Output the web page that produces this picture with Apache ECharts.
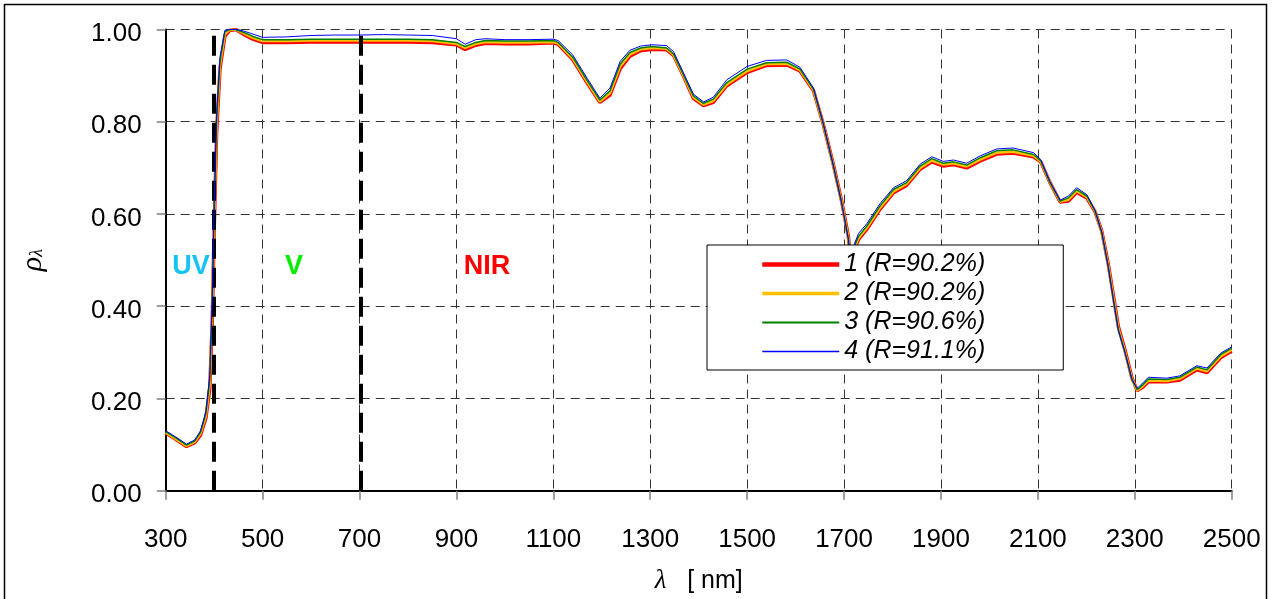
<!DOCTYPE html>
<html><head><meta charset="utf-8">
<script src="https://cdn.jsdelivr.net/npm/echarts@6/dist/echarts.min.js"></script>
<style>html,body{margin:0;padding:0;background:#fff}#c{width:1272px;height:599px}</style>
</head><body><div id="c"></div>
<script>
const wavelengths = [300,320,343,360,372,383,391,396,400,405,412,422,432,445,460,480,500,550,600,650,700,750,800,850,900,918,940,960,1000,1050,1100,1110,1140,1170,1196,1217,1238,1258,1280,1303,1334,1348,1368,1389,1410,1430,1458,1500,1540,1582,1609,1637,1657,1678,1695,1709,1715,1722,1730,1747,1774,1802,1829,1857,1881,1905,1926,1953,1981,2015,2049,2091,2106,2125,2146,2163,2180,2201,2218,2232,2245,2256,2266,2280,2294,2305,2317,2328,2366,2393,2428,2449,2477,2500];
const sample1 = [0.125,0.112,0.096,0.104,0.121,0.158,0.222,0.365,0.565,0.775,0.915,0.985,0.998,1.000,0.990,0.979,0.972,0.972,0.973,0.973,0.973,0.973,0.973,0.972,0.967,0.957,0.966,0.970,0.969,0.969,0.971,0.968,0.935,0.884,0.842,0.858,0.915,0.942,0.954,0.957,0.956,0.944,0.900,0.851,0.835,0.842,0.878,0.907,0.922,0.923,0.910,0.867,0.795,0.707,0.628,0.551,0.470,0.524,0.545,0.567,0.610,0.646,0.662,0.697,0.713,0.704,0.707,0.700,0.715,0.730,0.732,0.724,0.713,0.668,0.626,0.628,0.647,0.635,0.605,0.562,0.493,0.422,0.356,0.304,0.245,0.217,0.225,0.236,0.236,0.240,0.262,0.256,0.288,0.303];
const sample2 = [0.126,0.113,0.097,0.106,0.124,0.163,0.232,0.385,0.585,0.790,0.922,0.990,0.999,1.000,0.992,0.982,0.975,0.975,0.976,0.976,0.976,0.976,0.976,0.975,0.969,0.960,0.969,0.973,0.972,0.972,0.973,0.970,0.937,0.886,0.844,0.862,0.920,0.946,0.957,0.960,0.958,0.945,0.901,0.853,0.837,0.845,0.881,0.910,0.925,0.926,0.912,0.868,0.795,0.705,0.626,0.548,0.470,0.528,0.548,0.570,0.613,0.649,0.665,0.700,0.716,0.707,0.710,0.703,0.718,0.733,0.735,0.726,0.714,0.668,0.627,0.631,0.650,0.637,0.606,0.560,0.490,0.418,0.352,0.301,0.243,0.218,0.227,0.239,0.238,0.243,0.265,0.259,0.291,0.306];
const sample3 = [0.128,0.115,0.099,0.108,0.127,0.168,0.240,0.400,0.600,0.800,0.930,0.995,1.000,1.000,0.994,0.985,0.978,0.978,0.979,0.979,0.979,0.979,0.979,0.978,0.972,0.963,0.972,0.976,0.975,0.975,0.976,0.972,0.940,0.889,0.847,0.867,0.925,0.950,0.960,0.963,0.960,0.947,0.903,0.856,0.840,0.849,0.885,0.914,0.928,0.929,0.914,0.870,0.795,0.704,0.624,0.545,0.470,0.532,0.552,0.574,0.617,0.653,0.668,0.704,0.720,0.710,0.713,0.706,0.722,0.737,0.739,0.729,0.715,0.668,0.628,0.635,0.653,0.639,0.606,0.559,0.487,0.414,0.349,0.299,0.241,0.219,0.230,0.242,0.241,0.246,0.268,0.262,0.295,0.309];
const sample4 = [0.130,0.117,0.101,0.110,0.130,0.172,0.250,0.420,0.620,0.815,0.940,0.998,1.000,1.000,0.997,0.990,0.983,0.984,0.987,0.988,0.988,0.989,0.988,0.987,0.980,0.968,0.978,0.980,0.978,0.978,0.979,0.976,0.945,0.894,0.851,0.873,0.931,0.955,0.964,0.967,0.965,0.952,0.907,0.860,0.843,0.853,0.891,0.920,0.933,0.934,0.918,0.873,0.797,0.705,0.624,0.545,0.472,0.537,0.558,0.579,0.622,0.657,0.672,0.708,0.724,0.714,0.717,0.710,0.726,0.741,0.743,0.733,0.718,0.670,0.630,0.639,0.657,0.642,0.608,0.560,0.487,0.413,0.348,0.299,0.242,0.222,0.234,0.246,0.244,0.249,0.271,0.266,0.298,0.312];
const seriesNames = ['1 (R=90.2%)','2 (R=90.2%)','3 (R=90.6%)','4 (R=91.1%)'];
const seriesColors = ['#ff0000','#ffc000','#008000','#0000ff'];
const seriesWidths = [3.5,2.5,1.5,1];
const legendWidths = [4.5,3.5,2,1.5];
const bandLimits = [400,703];
const bandLabels = [{text:'UV',x:352,y:0.487,color:'#17c4f0'},{text:'V',x:565,y:0.487,color:'#00ee00'},{text:'NIR',x:963,y:0.487,color:'#ff0000'}];
const xTicks = {min:300,max:2500,step:200};
const yTicks = {min:0,max:1,step:0.2};

const allSamples = [sample1,sample2,sample3,sample4];
const FONT = '"Liberation Sans", Arial, sans-serif';
const series = allSamples.map((vals,i)=>({
  name: seriesNames[i], type:'line', showSymbol:false, symbol:'none', animation:false,
  data: wavelengths.map((w,k)=>[w, vals[k]]),
  lineStyle:{color:seriesColors[i], width:seriesWidths[i]},
  itemStyle:{color:seriesColors[i]},
  color: seriesColors[i],
  z: 2+i
}));
series[3].markLine = {
  silent:true, symbol:['none','none'], label:{show:false}, animation:false,
  lineStyle:{color:'#000', width:4, type:[20,9]},
  data: bandLimits.map(v=>({xAxis:v}))
};
series[2].markPoint = {
  silent:true, symbol:'circle', symbolSize:0, animation:false,
  data: bandLabels.map(b=>({coord:[b.x,b.y], label:{show:true, position:'inside', formatter:b.text, color:b.color, fontWeight:'bold', fontSize:27, fontFamily:FONT}}))
};

const chart = echarts.init(document.getElementById('c'), null, {renderer:'canvas'});
chart.setOption({
  animation:false,
  backgroundColor:'#fff',
  grid:{left:165.7, right:40.3, top:29.5, bottom:108.3, containLabel:false, outerBoundsMode:'none'},
  legend:{
    show:true, z:20,
    data: seriesNames.map((n,i)=>({name:n, lineStyle:{width:legendWidths[i], color:seriesColors[i]}, itemStyle:{opacity:0}})),
    orient:'vertical', left:707, top:245,
    padding:[7,78,6,53], itemGap:4, itemWidth:77, itemHeight:25,
    itemStyle:{opacity:0},
    backgroundColor:'#ffffff', borderColor:'#000', borderWidth:1,
    textStyle:{fontFamily:FONT, fontSize:25, fontStyle:'italic', color:'#000'}
  },
  xAxis:{
    type:'value', min:xTicks.min, max:xTicks.max, interval:xTicks.step,
    name:'{l|λ}   [ nm]', nameLocation:'middle', nameGap:77,
    nameTextStyle:{fontFamily:FONT, fontSize:25, color:'#000', rich:{l:{fontFamily:'"Liberation Serif", serif', fontStyle:'italic', fontSize:27, color:'#000'}}},
    axisLine:{show:true, lineStyle:{color:'#000', width:2}},
    axisTick:{show:true, length:9, lineStyle:{color:'#808080', width:1.5}},
    axisLabel:{margin:36, fontFamily:FONT, fontSize:26, color:'#000', formatter:v=>String(v)},
    splitLine:{show:true, lineStyle:{color:'#333', width:1, type:[9,6]}}
  },
  yAxis:{
    type:'value', min:yTicks.min, max:yTicks.max, interval:yTicks.step,
    name:'{r|ρ}{s|λ}', nameLocation:'middle', nameGap:118, nameRotate:90,
    nameTextStyle:{rich:{r:{fontFamily:'"Liberation Serif", serif', fontStyle:'italic', fontSize:30, color:'#000'}, s:{fontFamily:'"Liberation Serif", serif', fontStyle:'italic', fontSize:18, color:'#000', padding:[10,0,0,0]}}},
    axisLine:{show:true, lineStyle:{color:'#000', width:2}},
    axisTick:{show:true, length:9, lineStyle:{color:'#808080', width:1.5}},
    axisLabel:{margin:24, fontFamily:FONT, fontSize:26, color:'#000', formatter:v=>'{a|'+v.toFixed(2)+'}',
      rich:{a:{fontFamily:FONT, fontSize:26, color:'#000', padding:[9,0,0,0]}}},
    splitLine:{show:true, lineStyle:{color:'#333', width:1, type:[9,6]}}
  },
  graphic:[{type:'rect', silent:true, z:100, shape:{x:4.5, y:4.5, width:1262, height:700}, style:{fill:'none', stroke:'#000', lineWidth:1.5}}],
  series: series
});
</script></body></html>
